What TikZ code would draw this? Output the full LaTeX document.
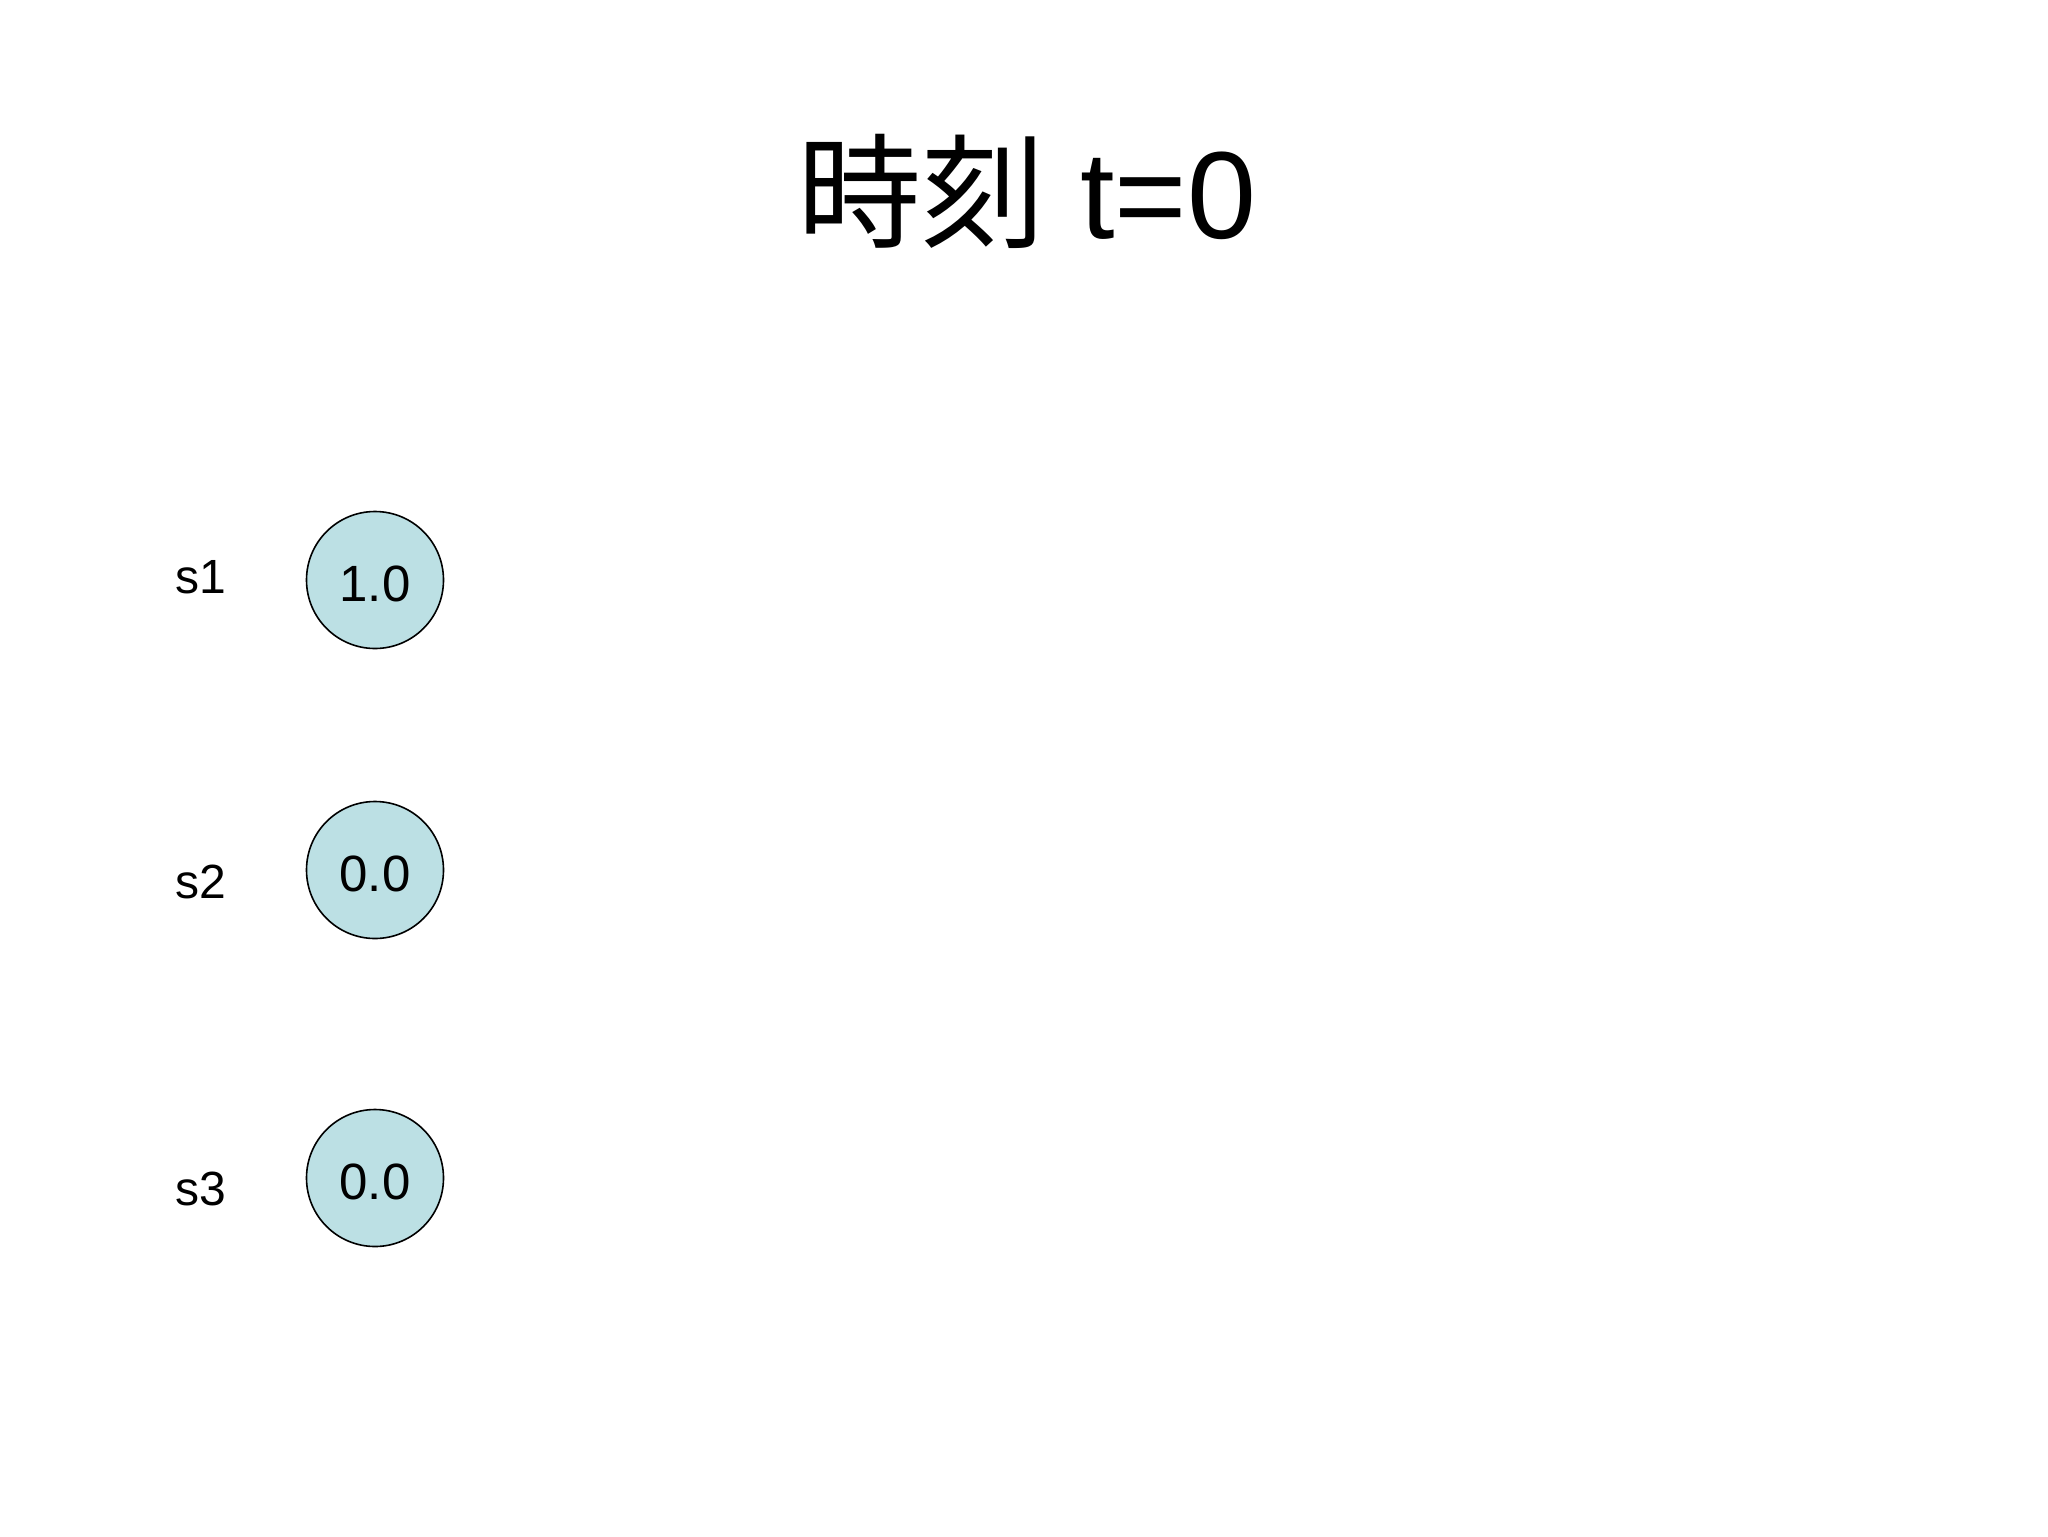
\documentclass[tikz,border=0pt]{standalone}
\usepackage{fontspec}
\setmainfont{Liberation Sans}
\newfontfamily\cjk{Noto Sans CJK JP}
\definecolor{nodefill}{RGB}{188,224,228}
\begin{document}
\begin{tikzpicture}[x=0.5pt,y=-0.5pt,
  statenode/.style={circle,draw=black,line width=0.8pt,fill=nodefill,minimum size=68.5pt,inner sep=0pt,
    font=\fontsize{25.5}{30}\selectfont,text height=21pt,text depth=0pt},
  rowlabel/.style={anchor=base west,inner sep=0pt,font=\fontsize{24}{28}\selectfont}]
\useasboundingbox (0,0) rectangle (2048,1536);
\node[anchor=base,inner sep=0pt] (title) at (1027,238) {\fontsize{62}{70}\selectfont{\cjk 時刻} t=0};
\node[statenode] (c1) at (375,580) {1.0};
\node[statenode] (c2) at (375,870) {0.0};
\node[statenode] (c3) at (375,1178) {0.0};
\node[rowlabel] (l1) at (175,593) {s1};
\node[rowlabel] (l2) at (175,898) {s2};
\node[rowlabel] (l3) at (175,1205) {s3};
\end{tikzpicture}
\end{document}
